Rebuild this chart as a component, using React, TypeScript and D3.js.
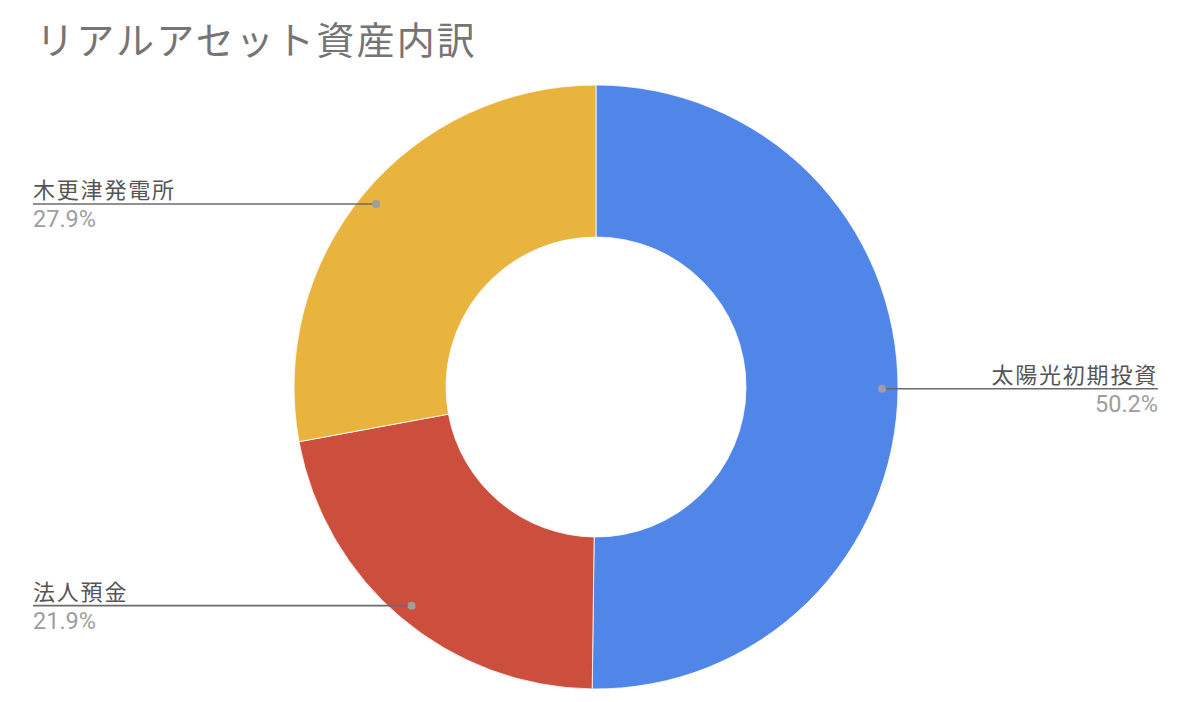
import React from "react";
import * as d3 from "d3";

const title = "リアルアセット資産内訳";
const categories = ["太陽光初期投資", "法人預金", "木更津発電所"];
const values = [50.2, 21.9, 27.9];
const colors = ["#5086e8", "#cc4f3e", "#e8b43e"];

const W = 1184;
const H = 702;
const cx = 596;
const cy = 387;
const rOuter = 302;
const rInner = 150;
const rDot = 286;

export default function App() {
  const pie = d3
    .pie<number>()
    .sort(null)
    .value((d) => d);
  const arcs = pie(values);
  const arc = d3.arc<d3.PieArcDatum<number>>().innerRadius(rInner).outerRadius(rOuter);
  const dotArc = d3.arc<d3.PieArcDatum<number>>().innerRadius(rDot).outerRadius(rDot);
  const total = d3.sum(values);
  const fmt = (v: number) => ((v / total) * 100).toFixed(1) + "%";

  return (
    <div style={{ position: "fixed", left: 0, top: 0, width: W, height: H, background: "#fff" }}>
      <svg width={W} height={H} style={{ display: "block" }}>
        <text
          x={36}
          y={54}
          fontFamily="'Noto Sans CJK JP', 'Noto Sans', sans-serif"
          fontSize={38}
          fill="#757575"
          letterSpacing={2.2}
        >
          {title}
        </text>
        <g transform={`translate(${cx},${cy})`}>
          {arcs.map((a, i) => (
            <path key={i} d={arc(a) || ""} fill={colors[i]} stroke="#ffffff" strokeWidth={0.8} />
          ))}
        </g>
        {arcs.map((a, i) => {
          const [dx, dy] = dotArc.centroid(a);
          const px = cx + dx;
          const py = cy + dy;
          const right = px > cx;
          const endX = right ? 1158 : 33;
          const anchor = right ? "end" : "start";
          return (
            <g key={"l" + i}>
              <line x1={px} y1={py} x2={endX} y2={py} stroke="#6b6b6b" strokeWidth={1.6} />
              <circle cx={px} cy={py} r={4} fill="#9e9e9e" />
              <text
                x={endX}
                y={py - 6}
                textAnchor={anchor}
                fontFamily="'Noto Sans CJK JP', 'Noto Sans', sans-serif"
                fontSize={22}
                letterSpacing={1.8}
                fill="#555555"
              >
                {categories[i]}
              </text>
              <text
                x={endX}
                y={py + 23}
                textAnchor={anchor}
                fontFamily="Roboto, 'Noto Sans', sans-serif"
                fontSize={23.5}
                fill="#9e9e9e"
              >
                {fmt(values[i])}
              </text>
            </g>
          );
        })}
      </svg>
    </div>
  );
}
